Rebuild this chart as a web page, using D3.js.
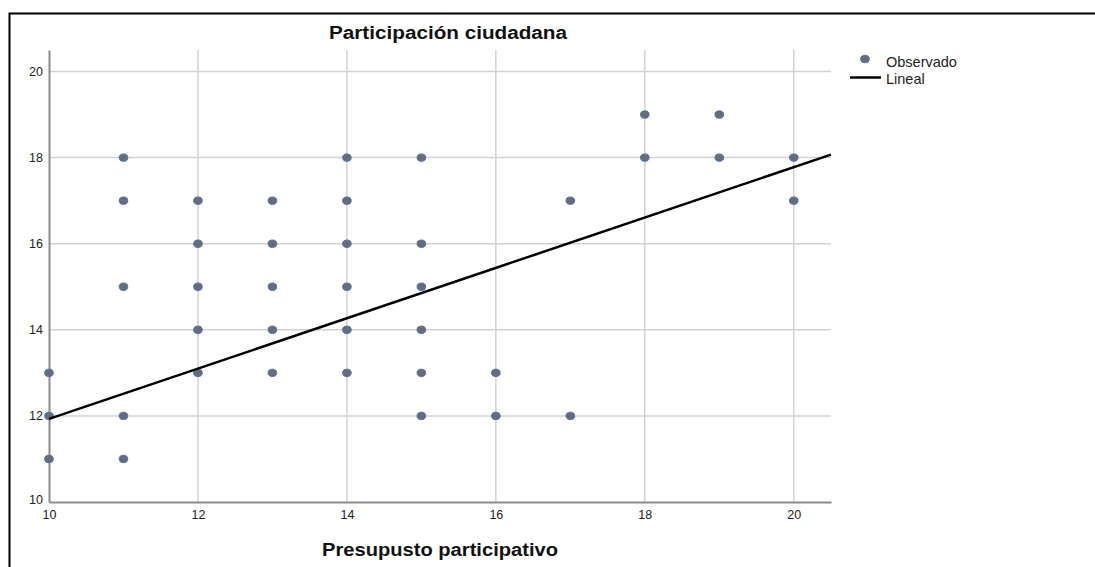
<!DOCTYPE html>
<html><head><meta charset="utf-8">
<script src="https://cdn.jsdelivr.net/npm/d3@7"></script>
<style>html,body{margin:0;padding:0;background:#fff;}svg{display:block;font-family:"Liberation Sans",Arial,sans-serif;}</style>
</head><body>
<svg id="c" width="1095" height="567"></svg>
<script>
const title = "Participación ciudadana";
const xTitle = "Presupusto participativo";
const xTicks = [10, 12, 14, 16, 18, 20];
const yTicks = [10, 12, 14, 16, 18, 20];
const obsX = [10,10,10, 11,11,11,11,11, 12,12,12,12,12, 13,13,13,13,13, 14,14,14,14,14,14, 15,15,15,15,15,15, 16,16, 17,17, 18,18, 19,19, 20,20];
const obsY = [13,12,11, 18,17,15,12,11, 17,16,15,14,13, 17,16,15,14,13, 18,17,16,15,14,13, 18,16,15,14,13,12, 13,12, 17,12, 19,18, 19,18, 18,17];
const fitX = [10, 20.5];
const fitY = [11.93, 18.07];
const legendLabels = ["Observado", "Lineal"];

const svg = d3.select("#c");
const x = d3.scaleLinear().domain([10, 20.5]).range([49, 831]);
const y = d3.scaleLinear().domain([10, 20.5]).range([502, 50]);

// outer frame (left & top)
svg.append("path").attr("d","M9.5,567 L9.5,13.5 L1095,13.5").attr("fill","none").attr("stroke","#000").attr("stroke-width",2);

// gridlines
svg.append("g").selectAll("line").data(xTicks.filter(d=>d>10)).join("line")
  .attr("x1",d=>x(d)).attr("x2",d=>x(d)).attr("y1",y(20.5)).attr("y2",y(10))
  .attr("stroke","#d2d2d2").attr("stroke-width",1.5);
svg.append("g").selectAll("line").data(yTicks.filter(d=>d>10)).join("line")
  .attr("y1",d=>y(d)).attr("y2",d=>y(d)).attr("x1",x(10)).attr("x2",x(20.5))
  .attr("stroke","#d2d2d2").attr("stroke-width",1.5);

// axes
const xa = svg.append("g").attr("transform",`translate(0,${y(10)})`)
  .call(d3.axisBottom(x).tickValues(xTicks).tickFormat(d3.format("d")).tickSize(0).tickPadding(8));
const ya = svg.append("g").attr("transform",`translate(${x(10)},0)`)
  .call(d3.axisLeft(y).tickValues(yTicks).tickFormat(d3.format("d")).tickSize(0).tickPadding(6));
[xa,ya].forEach(a=>{
  a.select(".domain").attr("stroke","#8c8c8c").attr("stroke-width",2);
  a.selectAll("text").attr("font-family","Liberation Sans, Arial, sans-serif").attr("font-size",12.5).attr("fill","#222");
});
ya.selectAll(".tick").filter(d=>d===10).select("text").attr("dy","0.1em");

// points
svg.append("g").selectAll("ellipse").data(obsX.map((v,i)=>[v,obsY[i]])).join("ellipse")
  .attr("cx",d=>x(d[0])).attr("cy",d=>y(d[1])).attr("rx",4.3).attr("ry",3.7)
  .attr("fill","#6a6c74").attr("stroke","#4d6fc0").attr("stroke-width",1);

// fit line
svg.append("line").attr("x1",x(fitX[0])).attr("y1",y(fitY[0])).attr("x2",x(fitX[1])).attr("y2",y(fitY[1]))
  .attr("stroke","#000").attr("stroke-width",2.5);

// titles
svg.append("text").attr("x",448).attr("y",39).attr("text-anchor","middle")
  .attr("font-size",18).attr("font-weight","bold").attr("fill","#111")
  .attr("textLength",238).attr("lengthAdjust","spacingAndGlyphs").text(title);
svg.append("text").attr("x",440).attr("y",556).attr("text-anchor","middle")
  .attr("font-size",18).attr("font-weight","bold").attr("fill","#111")
  .attr("textLength",236).attr("lengthAdjust","spacingAndGlyphs").text(xTitle);

// legend
const lg = svg.append("g");
lg.append("ellipse").attr("cx",865).attr("cy",59).attr("rx",4.3).attr("ry",3.7)
  .attr("fill","#6a6c74").attr("stroke","#4d6fc0").attr("stroke-width",1);
lg.append("line").attr("x1",850).attr("x2",881).attr("y1",77.5).attr("y2",77.5).attr("stroke","#000").attr("stroke-width",2.5);
lg.selectAll("text").data(legendLabels).join("text")
  .attr("x",886).attr("y",(d,i)=>66.5+i*17).attr("font-size",14.5).attr("fill","#222").text(d=>d);
</script>
</body></html>
